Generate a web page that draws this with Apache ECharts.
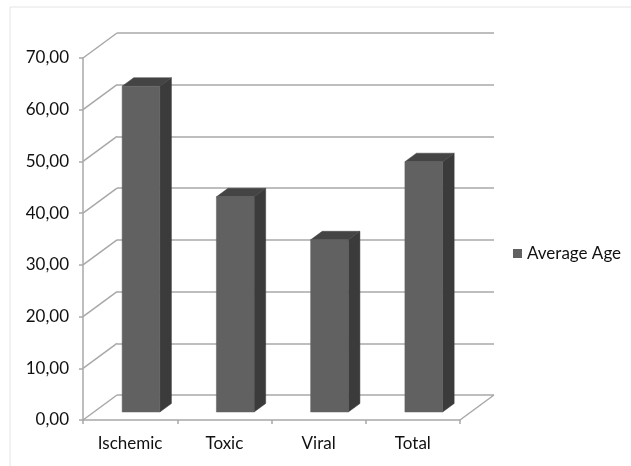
<!DOCTYPE html>
<html><head><meta charset="utf-8">
<style>html,body{margin:0;padding:0;background:#fff}#c{width:631px;height:466px}</style>
<script src="https://cdn.jsdelivr.net/npm/echarts@6/dist/echarts.min.js"></script>
</head><body><div id="c"></div>
<script>
var categories = ['Ischemic', 'Toxic', 'Viral', 'Total'];
var averageAge = [63.0, 41.6, 33.3, 48.4];
var yTicks = [0, 10, 20, 30, 40, 50, 60, 70];

var DX = 34, DY = -25;          // depth offset of back wall (px)
var D0 = 0.32, D1 = 0.66;       // bar depth start/end (fraction)
var BARW = 0.4;                 // bar width as fraction of band
var GRID = '#a8a8a8';
var FONT = 'Lato';

var chart = echarts.init(document.getElementById('c'));

function poly(pts, fill) {
  return { type: 'polygon', shape: { points: pts }, style: { fill: fill, stroke: fill, lineWidth: 0.5 } };
}

chart.setOption({
  animation: false,
  backgroundColor: '#fff',
  textStyle: { fontFamily: FONT },
  graphic: [{ type: 'rect', shape: { x: 10, y: 7, width: 630, height: 470 }, style: { fill: 'none', stroke: '#e4e4e4', lineWidth: 1 }, z: -10 }],
  legend: {
    data: ['Average Age'], left: 508, top: 240, icon: 'rect', itemWidth: 9, itemHeight: 9, itemGap: 6,
    textStyle: { fontFamily: FONT, fontSize: 17, color: '#111' }
  },
  grid: [
    { left: 83, right: 171, top: 58, bottom: 46 },
    { left: 83 + DX, right: 171 - DX, top: 58 + DY, bottom: 46 - DY }
  ],
  xAxis: [
    { type: 'category', gridIndex: 0, data: categories,
      axisLine: { lineStyle: { color: GRID, width: 1.5 } },
      axisTick: { show: true, length: 4, lineStyle: { color: GRID, width: 1.5 } },
      axisLabel: { fontFamily: FONT, fontSize: 17, color: '#111', margin: 15 } },
    { type: 'category', gridIndex: 1, data: categories, show: false }
  ],
  yAxis: [
    { type: 'value', gridIndex: 0, min: 0, max: 70, interval: 10,
      axisLine: { show: true, lineStyle: { color: GRID, width: 1.5 } },
      axisTick: { show: true, length: 4, lineStyle: { color: GRID, width: 1.5 } },
      splitLine: { show: false },
      axisLabel: { fontFamily: FONT, fontSize: 17, color: '#111', margin: 14,
        formatter: function (v) { return v.toFixed(2).replace('.', ','); } } },
    { type: 'value', gridIndex: 1, min: 0, max: 70, interval: 10,
      axisLine: { show: false }, axisTick: { show: false }, axisLabel: { show: false },
      splitLine: { show: true, lineStyle: { color: GRID, width: 1.5 } } }
  ],
  series: [
    { type: 'custom', name: 'walls', xAxisIndex: 0, yAxisIndex: 0, silent: true, z: 1,
      data: yTicks.map(function (t) { return [0, t]; }),
      renderItem: function (params, api) {
        var cs = params.coordSys;
        var y = api.coord([0, api.value(1)])[1];
        var ch = [{ type: 'line', shape: { x1: cs.x, y1: y, x2: cs.x + DX, y2: y + DY }, style: { stroke: GRID, lineWidth: 1.5 } }];
        if (api.value(1) === 0) {
          ch.push({ type: 'line', shape: { x1: cs.x + cs.width, y1: y, x2: cs.x + cs.width + DX, y2: y + DY }, style: { stroke: GRID, lineWidth: 1.5 } });
        }
        return { type: 'group', children: ch };
      }
    },
    { type: 'custom', name: 'Average Age', xAxisIndex: 0, yAxisIndex: 0, z: 5,
      itemStyle: { color: '#616161' },
      data: averageAge.map(function (v, i) { return [i, v]; }),
      renderItem: function (params, api) {
        var i = api.value(0), v = api.value(1);
        var c = api.coord([i, 0]);
        var top = api.coord([i, v])[1];
        var bw = api.size([1, 0])[0] * BARW;
        var ox0 = D0 * DX, oy0 = D0 * DY, ox1 = D1 * DX, oy1 = D1 * DY;
        var l = c[0] - bw / 2 + ox0, r = c[0] + bw / 2 + ox0;
        var b = c[1] + oy0, t = top + oy0;
        var ddx = ox1 - ox0, ddy = oy1 - oy0;
        return { type: 'group', children: [
          poly([[r, t], [r + ddx, t + ddy], [r + ddx, b + ddy], [r, b]], '#3b3b3b'),
          poly([[l, t], [l + ddx, t + ddy], [r + ddx, t + ddy], [r, t]], '#444444'),
          poly([[l, t], [r, t], [r, b], [l, b]], '#616161')
        ] };
      }
    }
  ]
});
</script></body></html>
